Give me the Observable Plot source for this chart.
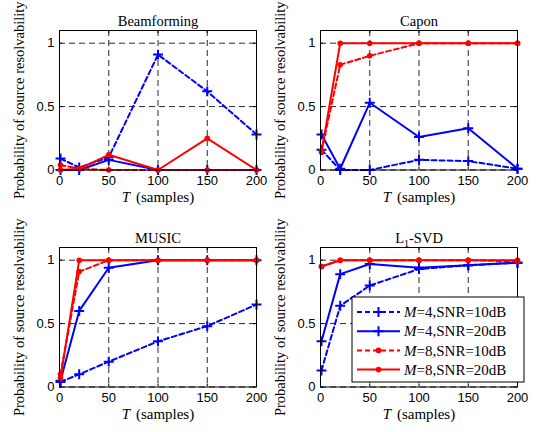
<!DOCTYPE html>
<html><head><meta charset="utf-8">
<script src="https://cdn.jsdelivr.net/npm/d3@7"></script>
<script src="https://cdn.jsdelivr.net/npm/@observablehq/plot@0.6"></script>
<style>
body{margin:0;background:#fff;}
#chart{position:relative;width:538px;height:432px;background:#fff;overflow:hidden;}
.panel{position:absolute;}
</style></head><body><div id="chart"></div>
<script>
// ---- data ----
const T = [1, 20, 50, 100, 150, 200];
const methods = ["Beamforming", "Capon", "MUSIC", "L1-SVD"];
const seriesNames = ["M=4,SNR=10dB", "M=4,SNR=20dB", "M=8,SNR=10dB", "M=8,SNR=20dB"];

const beamforming_m4_10 = [0.09, 0.02, 0.10, 0.91, 0.62, 0.28];
const beamforming_m4_20 = [0.00, 0.00, 0.08, 0.00, 0.00, 0.00];
const beamforming_m8_10 = [0.04, 0.01, 0.00, 0.00, 0.00, 0.00];
const beamforming_m8_20 = [0.00, 0.01, 0.12, 0.00, 0.25, 0.00];

const capon_m4_10 = [0.16, 0.00, 0.00, 0.08, 0.07, 0.01];
const capon_m4_20 = [0.28, 0.01, 0.53, 0.26, 0.33, 0.01];
const capon_m8_10 = [0.15, 0.83, 0.90, 1.00, 1.00, 1.00];
const capon_m8_20 = [0.14, 1.00, 1.00, 1.00, 1.00, 1.00];

const music_m4_10 = [0.04, 0.10, 0.20, 0.36, 0.48, 0.65];
const music_m4_20 = [0.05, 0.60, 0.94, 1.00, 1.00, 1.00];
const music_m8_10 = [0.10, 0.91, 1.00, 1.00, 1.00, 1.00];
const music_m8_20 = [0.07, 1.00, 1.00, 1.00, 1.00, 1.00];

const l1svd_m4_10 = [0.13, 0.64, 0.80, 0.93, 0.96, 0.98];
const l1svd_m4_20 = [0.36, 0.89, 0.97, 0.94, 0.96, 0.98];
const l1svd_m8_10 = [0.95, 1.00, 1.00, 1.00, 1.00, 0.99];
const l1svd_m8_20 = [0.95, 1.00, 1.00, 1.00, 1.00, 1.00];

const xTicks = [0, 50, 100, 150, 200];
const yTicks = [0, 0.5, 1];
const yTickLabels = ["0", "0.5", "1"];
const xLabel = "T (samples)";
const yLabel = "Probability of source resolvability";

// ---- layout / style ----
const panelData = [
  [beamforming_m4_10, beamforming_m4_20, beamforming_m8_10, beamforming_m8_20],
  [capon_m4_10, capon_m4_20, capon_m8_10, capon_m8_20],
  [music_m4_10, music_m4_20, music_m8_10, music_m8_20],
  [l1svd_m4_10, l1svd_m4_20, l1svd_m8_10, l1svd_m8_20]
];
const positions = [[0, 0], [261, 0], [0, 217], [261, 217]];
const styles = [
  {stroke: "#0000ff", dash: "5,3", marker: "plus"},
  {stroke: "#0000ff", dash: null, marker: "plus"},
  {stroke: "#ff0000", dash: "5,3", marker: "dot"},
  {stroke: "#ff0000", dash: null, marker: "dot"}
];
const W = 265, H = 215, ML = 59, MR = 9, MT = 30, MB = 45.5;
const FW = W - ML - MR, FH = H - MT - MB;
const SERIF = "Liberation Serif, Times New Roman, serif";
const SANS = "Liberation Sans, Arial, sans-serif";

const chart = document.getElementById("chart");

function seriesMarks(values, st) {
  const rows = T.map((t, i) => ({T: t, p: values[i]}));
  const m = [Plot.line(rows, {x: "T", y: "p", stroke: st.stroke, strokeWidth: 2,
    strokeDasharray: st.dash || undefined})];
  if (st.marker === "plus") {
    m.push(Plot.dot(rows, {x: "T", y: "p", symbol: "plus", r: 3.3, stroke: st.stroke, fill: "none", strokeWidth: 2}));
  } else {
    m.push(Plot.dot(rows, {x: "T", y: "p", r: 2.8, fill: st.stroke, stroke: "none"}));
  }
  return m;
}

methods.forEach((name, k) => {
  const marks = [
    Plot.ruleX(xTicks, {stroke: "#111", strokeWidth: 0.9, strokeDasharray: "6,4"}),
    Plot.ruleY(yTicks, {stroke: "#111", strokeWidth: 0.9, strokeDasharray: "6,4"}),
    // inward ticks
    Plot.ruleX(xTicks, {stroke: "#000", insetTop: FH - 3}),
    Plot.ruleX(xTicks, {stroke: "#000", insetBottom: FH - 3}),
    Plot.ruleY(yTicks, {stroke: "#000", insetRight: FW - 3}),
    Plot.ruleY(yTicks, {stroke: "#000", insetLeft: FW - 3}),
    Plot.axisX(xTicks, {tickSize: 0, tickPadding: 6, fontSize: 13, fontFamily: SANS, fill: "#000", label: null}),
    Plot.axisY(yTicks, {tickSize: 0, tickPadding: 5, fontSize: 13, fontFamily: SANS, fill: "#000", label: null,
      tickFormat: (d) => yTickLabels[yTicks.indexOf(d)]}),
    Plot.text([name], {frameAnchor: "top", dy: -15, text: (d) => d, fontFamily: SERIF, fontSize: 14.5,
      fontWeight: "normal", textAnchor: "middle", fill: "#000"}),
    Plot.text([yLabel], {frameAnchor: "left", rotate: -90, dx: -40, text: (d) => d, fontFamily: SERIF, fontSize: 14.5,
      fontWeight: "normal", textAnchor: "middle", fill: "#000"}),
    Plot.text([xLabel], {frameAnchor: "bottom", dy: 31.5, text: (d) => d, fontFamily: SERIF, fontSize: 15,
      fontWeight: "normal", textAnchor: "middle", fill: "#000"})
  ];
  panelData[k].forEach((vals, i) => marks.push(...seriesMarks(vals, styles[i])));
  marks.push(Plot.frame({stroke: "#000", strokeWidth: 1}));

  const svg = Plot.plot({
    width: W, height: H,
    marginLeft: ML, marginRight: MR, marginTop: MT, marginBottom: MB,
    x: {domain: [0, 200]},
    y: {domain: [0, 1.1]},
    style: {background: "transparent", fontFamily: SANS, fontSize: "13px", overflow: "visible"},
    marks
  });

  const texts = d3.select(svg).selectAll("text");
  // x label: italic T
  texts.filter(function() { return this.textContent === xLabel; }).each(function() {
    const t = d3.select(this); const s = t.text(); t.text("");
    t.append("tspan").attr("font-style", "italic").text(s.slice(0, 1));
    t.append("tspan").attr("dx", 2).text("\u00a0" + s.slice(2));
  });
  // title subscript for L1-SVD
  texts.filter(function() { return this.textContent === "L1-SVD"; }).each(function() {
    const t = d3.select(this); t.text("");
    t.append("tspan").text("L");
    t.append("tspan").attr("dy", 4).attr("font-size", 10).text("1");
    t.append("tspan").attr("dy", -4).text("-SVD");
  });

  // legend in L1-SVD panel
  if (k === 3) {
    const lg = d3.select(svg).append("g").attr("text-anchor", "start");
    lg.append("rect").attr("x", 91).attr("y", 80).attr("width", 172).attr("height", 85)
      .attr("fill", "#fff").attr("stroke", "#000").attr("stroke-width", 1);
    seriesNames.forEach((nm, i) => {
      const st = styles[i];
      const y = 95 + i * 19.2;
      lg.append("line").attr("x1", 96).attr("x2", 139).attr("y1", y).attr("y2", y)
        .attr("stroke", st.stroke).attr("stroke-width", 2)
        .attr("stroke-dasharray", st.dash || null);
      if (st.marker === "plus") {
        lg.append("path").attr("d", `M${117.5 - 5},${y}H${117.5 + 5}M117.5,${y - 5}V${y + 5}`)
          .attr("stroke", st.stroke).attr("stroke-width", 2).attr("fill", "none");
      } else {
        lg.append("circle").attr("cx", 117.5).attr("cy", y).attr("r", 2.8).attr("fill", st.stroke);
      }
      const tx = lg.append("text").attr("x", 143).attr("y", y).attr("dy", "0.35em")
        .attr("text-anchor", "start")
        .attr("font-family", SERIF).attr("font-size", 15).attr("fill", "#000");
      tx.append("tspan").attr("font-style", "italic").text(nm.slice(0, 1));
      tx.append("tspan").text(nm.slice(1));
    });
  }

  const div = document.createElement("div");
  div.className = "panel";
  div.style.left = positions[k][0] + "px";
  div.style.top = positions[k][1] + "px";
  div.appendChild(svg);
  chart.appendChild(div);
});
</script>
</body></html>
